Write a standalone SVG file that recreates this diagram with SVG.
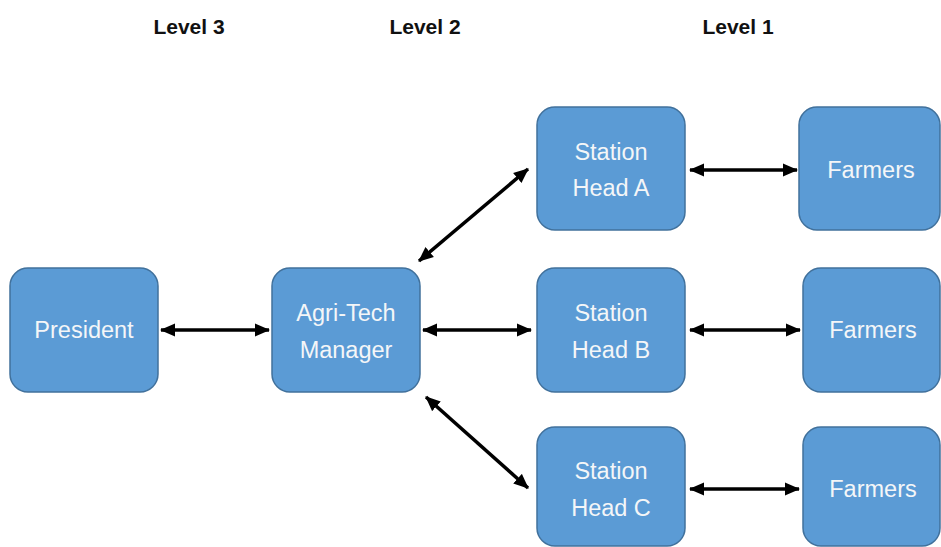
<svg xmlns="http://www.w3.org/2000/svg" width="941" height="547" viewBox="0 0 941 547">
  <style>
    .box { fill: #5b9bd5; stroke: #41719c; stroke-width: 1.5; }
    .lbl { font-family: "Liberation Sans", Arial, sans-serif; font-size: 23.5px; fill: #f4f6f8; text-anchor: middle; }
    .lvl { font-family: "Liberation Sans", Arial, sans-serif; font-size: 21px; font-weight: bold; fill: #111; text-anchor: middle; }
    .link { stroke: #000; stroke-width: 3.5; fill: none; marker-start: url(#head); marker-end: url(#head); }
  </style>
  <defs>
    <marker id="head" viewBox="0 0 15 14" refX="14" refY="7" markerWidth="15" markerHeight="14" markerUnits="userSpaceOnUse" orient="auto-start-reverse">
      <path d="M0,0.5 L15,7 L0,13.5 z" fill="#000"/>
    </marker>
  </defs>
  <rect width="941" height="547" fill="#fff"/>

  <!-- level headings -->
  <g id="levels">
    <text class="lvl" x="189" y="34">Level 3</text>
    <text class="lvl" x="425" y="34">Level 2</text>
    <text class="lvl" x="738" y="34">Level 1</text>
  </g>

  <!-- connectors -->
  <g id="connectors">
    <line class="link" x1="161" y1="330" x2="269" y2="330"/>
    <line class="link" x1="423" y1="330" x2="531" y2="330"/>
    <line class="link" x1="419" y1="261" x2="528" y2="169"/>
    <line class="link" x1="426" y1="397" x2="528" y2="488"/>
    <line class="link" x1="690" y1="170" x2="797" y2="170"/>
    <line class="link" x1="690" y1="330" x2="800" y2="330"/>
    <line class="link" x1="690" y1="489" x2="799" y2="489"/>
  </g>

  <g id="president">
    <rect class="box" x="10" y="268" width="148" height="124" rx="18"/>
    <text class="lbl" x="84" y="338">President</text>
  </g>

  <g id="agritech-manager">
    <rect class="box" x="272" y="268" width="148" height="124" rx="18"/>
    <text class="lbl" x="346" y="321">Agri-Tech</text>
    <text class="lbl" x="346" y="358">Manager</text>
  </g>

  <g id="station-head-a">
    <rect class="box" x="537" y="107" width="148" height="123" rx="18"/>
    <text class="lbl" x="611" y="160">Station</text>
    <text class="lbl" x="611" y="196">Head A</text>
  </g>

  <g id="station-head-b">
    <rect class="box" x="537" y="268" width="148" height="124" rx="18"/>
    <text class="lbl" x="611" y="321">Station</text>
    <text class="lbl" x="611" y="358">Head B</text>
  </g>

  <g id="station-head-c">
    <rect class="box" x="537" y="427" width="148" height="119" rx="18"/>
    <text class="lbl" x="611" y="479">Station</text>
    <text class="lbl" x="611" y="516">Head C</text>
  </g>

  <g id="farmers-a">
    <rect class="box" x="799" y="107" width="141" height="123" rx="18"/>
    <text class="lbl" x="871" y="178">Farmers</text>
  </g>

  <g id="farmers-b">
    <rect class="box" x="803" y="268" width="137" height="124" rx="18"/>
    <text class="lbl" x="873" y="338">Farmers</text>
  </g>

  <g id="farmers-c">
    <rect class="box" x="803" y="427" width="137" height="119" rx="18"/>
    <text class="lbl" x="873" y="497">Farmers</text>
  </g>
</svg>
